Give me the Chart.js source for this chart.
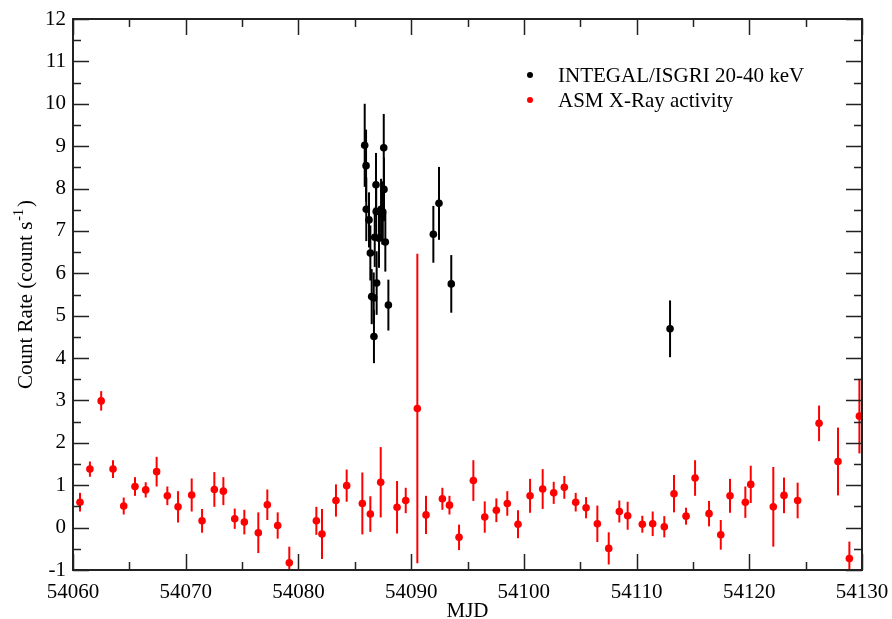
<!DOCTYPE html>
<html>
<head>
<meta charset="utf-8">
<script src="https://cdn.jsdelivr.net/npm/chart.js@4.4.1/dist/chart.umd.min.js"></script>
<style>
  html, body { margin: 0; padding: 0; background: #fff; }
  #wrap { width: 892px; height: 619px; }
</style>
</head>
<body>
<div id="wrap"><canvas id="lc"></canvas></div>
<script>
// INTEGAL/ISGRI 20-40 keV light curve
const isgriMjd  = [54085.88, 54086.00, 54086.02, 54086.26, 54086.38, 54086.50, 54086.68, 54086.70, 54086.77, 54086.88, 54086.90,
                   54086.94, 54087.15, 54087.33, 54087.44, 54087.48, 54087.57, 54087.59, 54087.71, 54087.98, 54091.97, 54092.47,
                   54093.56, 54112.97];
const isgriRate = [9.02, 8.54, 7.51, 7.26, 6.48, 5.45, 5.42, 4.51, 6.85, 8.09, 7.46,
                   5.77, 6.83, 7.51, 7.38, 7.45, 8.96, 7.98, 6.74, 5.25, 6.92, 7.65,
                   5.75, 4.69];
const isgriErr  = [0.98, 0.85, 0.75, 0.65, 0.65, 0.65, 0.6, 0.63, 0.7, 0.75, 0.7,
                   0.75, 0.7, 0.72, 0.7, 0.72, 0.8, 0.75, 0.7, 0.6, 0.67, 0.86,
                   0.68, 0.67];

// ASM X-Ray activity
const asmMjd  = [54060.62, 54061.50, 54062.50, 54063.55, 54064.50, 54065.50, 54066.45, 54067.42, 54068.37, 54069.32,
                 54070.53, 54071.45, 54072.54, 54073.34, 54074.35, 54075.20, 54076.44, 54077.24, 54078.16, 54079.19,
                 54081.59, 54082.09, 54083.33, 54084.28, 54085.67, 54086.38, 54087.30, 54088.75, 54089.52, 54090.55,
                 54091.32, 54092.77, 54093.40, 54094.25, 54095.52, 54096.53, 54097.56, 54098.53, 54099.48, 54100.55,
                 54101.67, 54102.65, 54103.59, 54104.60, 54105.52, 54106.52, 54107.53, 54108.47, 54109.21, 54110.51,
                 54111.43, 54112.46, 54113.32, 54114.39, 54115.19, 54116.43, 54117.47, 54118.29, 54119.65, 54120.13,
                 54122.13, 54123.08, 54124.29, 54126.19, 54127.87, 54128.88, 54129.77];
const asmRate = [0.60, 1.38, 2.99, 1.38, 0.51, 0.97, 0.89, 1.32, 0.75, 0.49,
                 0.77, 0.16, 0.90, 0.86, 0.21, 0.13, -0.12, 0.54, 0.05, -0.83,
                 0.16, -0.15, 0.64, 0.99, 0.57, 0.32, 1.07, 0.48, 0.64, 2.81,
                 0.30, 0.68, 0.53, -0.23, 1.11, 0.25, 0.41, 0.57, 0.08, 0.75,
                 0.91, 0.82, 0.95, 0.60, 0.47, 0.09, -0.49, 0.38, 0.28, 0.08,
                 0.09, 0.02, 0.80, 0.27, 1.17, 0.33, -0.17, 0.75, 0.60, 1.02,
                 0.49, 0.76, 0.64, 2.46, 1.56, -0.73, 2.63];
const asmErr  = [0.22, 0.18, 0.23, 0.21, 0.20, 0.22, 0.18, 0.35, 0.22, 0.37,
                 0.39, 0.28, 0.41, 0.33, 0.24, 0.29, 0.48, 0.36, 0.31, 0.38,
                 0.33, 0.59, 0.38, 0.38, 0.73, 0.42, 0.83, 0.62, 0.30, 3.65,
                 0.45, 0.26, 0.22, 0.30, 0.48, 0.37, 0.28, 0.29, 0.33, 0.40,
                 0.47, 0.26, 0.27, 0.22, 0.25, 0.43, 0.38, 0.26, 0.33, 0.20,
                 0.29, 0.25, 0.44, 0.20, 0.42, 0.30, 0.35, 0.40, 0.37, 0.44,
                 0.94, 0.42, 0.42, 0.42, 0.80, 0.40, 0.88];

const xTicks = [54060, 54070, 54080, 54090, 54100, 54110, 54120, 54130];
const yTicks = [-1, 0, 1, 2, 3, 4, 5, 6, 7, 8, 9, 10, 11, 12];

const serif = '"Liberation Serif", "Times New Roman", serif';

const toPoints = (xs, ys, es) => xs.map((x, i) => ({ x, y: ys[i], err: es[i] }));

// vertical error bars, under the markers
const errorBars = {
  id: 'errorBars',
  beforeDatasetsDraw(chart) {
    const { ctx, chartArea: a, scales: { x, y } } = chart;
    ctx.save();
    ctx.beginPath();
    ctx.rect(a.left, a.top, a.right - a.left, a.bottom - a.top);
    ctx.clip();
    chart.data.datasets.forEach(ds => {
      ctx.strokeStyle = ds.borderColor;
      ctx.lineWidth = 2;
      ds.data.forEach(p => {
        const px = x.getPixelForValue(p.x);
        ctx.beginPath();
        ctx.moveTo(px, y.getPixelForValue(p.y - p.err));
        ctx.lineTo(px, y.getPixelForValue(p.y + p.err));
        ctx.stroke();
      });
    });
    ctx.restore();
  }
};

// frame, inward ticks, axis titles and legend (xmgrace look)
const frame = {
  id: 'frame',
  afterDraw(chart) {
    const { ctx, chartArea: a, scales: { x, y } } = chart;
    ctx.save();
    ctx.strokeStyle = '#222';
    ctx.lineWidth = 2;
    ctx.strokeRect(a.left, a.top, a.right - a.left, a.bottom - a.top);

    ctx.lineWidth = 1.5;
    for (let v = 54060; v <= 54130; v += 5) {
      const px = Math.round(x.getPixelForValue(v)) + 0.5;
      const len = v % 10 === 0 ? 16 : 8;
      ctx.beginPath();
      ctx.moveTo(px, a.bottom); ctx.lineTo(px, a.bottom - len);
      ctx.moveTo(px, a.top); ctx.lineTo(px, a.top + len);
      ctx.stroke();
    }
    for (let v = -1; v <= 12; v += 0.5) {
      const py = Math.round(y.getPixelForValue(v)) + 0.5;
      const len = Number.isInteger(v) ? 16 : 8;
      ctx.beginPath();
      ctx.moveTo(a.left, py); ctx.lineTo(a.left + len, py);
      ctx.moveTo(a.right, py); ctx.lineTo(a.right - len, py);
      ctx.stroke();
    }

    // axis titles
    ctx.fillStyle = '#000';
    ctx.font = '21px ' + serif;
    ctx.textAlign = 'center';
    ctx.textBaseline = 'alphabetic';
    ctx.fillText('MJD', (a.left + a.right) / 2, 617);

    ctx.save();
    ctx.translate(32, (a.top + a.bottom) / 2);
    ctx.rotate(-Math.PI / 2);
    const main = 'Count Rate (count s';
    const sup = '-1';
    ctx.font = '21px ' + serif;
    const wMain = ctx.measureText(main).width;
    ctx.font = '14px ' + serif;
    const wSup = ctx.measureText(sup).width;
    ctx.font = '21px ' + serif;
    const wEnd = ctx.measureText(')').width;
    let sx = -(wMain + wSup + 3 + wEnd) / 2;
    ctx.textAlign = 'left';
    ctx.fillText(main, sx, 0);
    sx += wMain + 1;
    ctx.font = '14px ' + serif;
    ctx.fillText(sup, sx, -9);
    sx += wSup + 2;
    ctx.font = '21px ' + serif;
    ctx.fillText(')', sx, 0);
    ctx.restore();

    // legend
    const items = [
      { label: 'INTEGAL/ISGRI 20-40 keV', color: '#000' },
      { label: 'ASM X-Ray activity', color: '#ff0000' }
    ];
    ctx.font = '21px ' + serif;
    ctx.textAlign = 'left';
    ctx.textBaseline = 'middle';
    items.forEach((it, i) => {
      const ly = 75 + i * 25;
      ctx.fillStyle = it.color;
      ctx.beginPath();
      ctx.arc(530, ly, 3, 0, Math.PI * 2);
      ctx.fill();
      ctx.fillStyle = '#000';
      ctx.fillText(it.label, 558, ly + 1);
    });
    ctx.restore();
  }
};

new Chart(document.getElementById('lc'), {
  type: 'scatter',
  data: {
    datasets: [
      {
        label: 'INTEGAL/ISGRI 20-40 keV',
        data: toPoints(isgriMjd, isgriRate, isgriErr),
        backgroundColor: '#000',
        borderColor: '#000',
        pointRadius: 3.8,
        pointBorderWidth: 0
      },
      {
        label: 'ASM X-Ray activity',
        data: toPoints(asmMjd, asmRate, asmErr),
        backgroundColor: '#ff0000',
        borderColor: '#ff0000',
        pointRadius: 3.8,
        pointBorderWidth: 0
      }
    ]
  },
  options: {
    responsive: true,
    maintainAspectRatio: false,
    animation: false,
    layout: { padding: { top: 19, right: 30, left: 0, bottom: 0 } },
    plugins: {
      legend: { display: false },
      tooltip: { enabled: false }
    },
    scales: {
      x: {
        type: 'linear',
        min: 54060,
        max: 54130,
        afterBuildTicks: s => { s.ticks = xTicks.map(v => ({ value: v })); },
        afterFit: s => { s.height = 49; s.paddingRight = 0; s.paddingLeft = 0; },
        grid: { display: false, drawTicks: false },
        border: { display: false },
        ticks: {
          color: '#000',
          padding: 10,
          maxRotation: 0,
          font: { family: serif, size: 21 },
          callback: v => String(v)
        }
      },
      y: {
        min: -1,
        max: 12,
        afterBuildTicks: s => { s.ticks = yTicks.map(v => ({ value: v })); },
        afterFit: s => { s.width = 73; s.paddingTop = 0; s.paddingBottom = 0; },
        grid: { display: false, drawTicks: false },
        border: { display: false },
        ticks: {
          color: '#000',
          padding: 7,
          font: { family: serif, size: 21 },
          callback: v => String(v)
        }
      }
    }
  },
  plugins: [errorBars, frame]
});
</script>
</body>
</html>
